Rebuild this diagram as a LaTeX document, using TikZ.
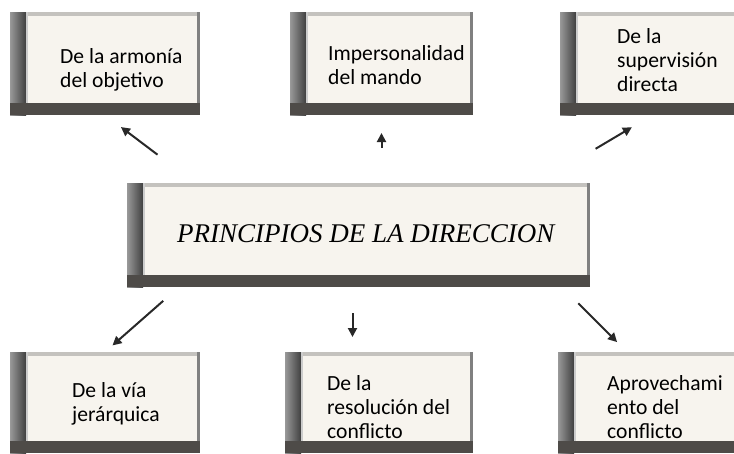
\documentclass[tikz,border=0pt]{standalone}
\usepackage{fontspec}
\newfontfamily\boxfont{Carlito}
\newfontfamily\titlefont{Liberation Serif}
\usetikzlibrary{arrows.meta}
\definecolor{boxface}{RGB}{247,244,238}
\definecolor{bandgray}{RGB}{78,75,72}
\definecolor{edgegray}{RGB}{196,194,190}
\definecolor{arrowgray}{RGB}{40,40,40}
\tikzset{
  frame/.style={rectangle,anchor=north west,inner sep=0pt,outer sep=0pt,fill=boxface,
    path picture={
      \fill[edgegray] (path picture bounding box.north west) rectangle ([yshift=-4pt]path picture bounding box.north east);
      \fill[black!50] ([xshift=-3pt]path picture bounding box.north east) rectangle (path picture bounding box.south east);
      \shade[left color=black!40,right color=black!75] (path picture bounding box.north west) rectangle ([xshift=16pt]path picture bounding box.south west);
      \fill[black!20] ([xshift=16pt]path picture bounding box.north west) rectangle ([xshift=18pt]path picture bounding box.south west);
      \fill[bandgray] ([yshift=12pt]path picture bounding box.south west) rectangle (path picture bounding box.south east);
    }},
  boxtext/.style={anchor=base west,align=left,inner sep=0pt,font=\boxfont\fontsize{21.6}{24}\selectfont},
  arr/.style={draw=arrowgray,line width=2pt,-{Triangle[length=9pt,width=9pt]}}
}
\begin{document}
\begin{tikzpicture}[x=1pt,y=-1pt]
  \useasboundingbox (0,0) rectangle (734,453);
  \node[frame,minimum width=463pt,minimum height=104pt] (pd) at (127,183) {};
  \node[frame,minimum width=190pt,minimum height=103pt] (tl) at (10,12) {};
  \node[frame,minimum width=183pt,minimum height=103pt] (tm) at (290,12) {};
  \node[frame,minimum width=185pt,minimum height=103pt] (tr) at (560,12) {};
  \node[frame,minimum width=190pt,minimum height=101pt] (bl) at (10,352) {};
  \node[frame,minimum width=188pt,minimum height=101pt] (bm) at (285,352) {};
  \node[frame,minimum width=187pt,minimum height=101pt] (br) at (558,352) {};

  \node[anchor=base west,inner sep=0pt,font=\titlefont\itshape\fontsize{27}{30}\selectfont] (pd-t) at ([shift={(50,59)}]pd.north west) {PRINCIPIOS DE LA DIRECCION};
  \node[boxtext] (tl-t) at ([shift={(50,75)}]tl.north west) {De la armonía\\del objetivo};
  \node[boxtext] (tm-t) at ([shift={(38,72)}]tm.north west) {Impersonalidad\\del mando};
  \node[boxtext] (tr-t) at ([shift={(57,79)}]tr.north west) {De la\\supervisión\\directa};
  \node[boxtext] (bl-t) at ([shift={(62,69)}]bl.north west) {De la vía\\jerárquica};
  \node[boxtext] (bm-t) at ([shift={(42,86)}]bm.north west) {De la\\resolución del\\conflicto};
  \node[boxtext] (br-t) at ([shift={(49,86)}]br.north west) {Aprovechami\\ento del\\conflicto};

  \draw[arr,shorten <=47pt,shorten >=20pt] ([xshift=68pt]pd.north west) -- (tl.south);
  \draw[arr,shorten <=35pt,shorten >=18pt] (tm.south |- pd.north) -- (tm.south);
  \draw[arr,shorten <=67pt,shorten >=24pt] ([xshift=-52pt]pd.north east) -- (tr.south);
  \draw[arr,shorten <=21pt,shorten >=10pt] ([xshift=52pt]pd.south west) -- (bl.north);
  \draw[arr,shorten <=26pt,shorten >=15pt] ([xshift=-6pt]pd.south) -- ([xshift=-6pt]pd.south |- bm.north);
  \draw[arr,shorten <=23pt,shorten >=14pt] ([xshift=-28pt]pd.south east) -- ([xshift=69pt]br.north west);
\end{tikzpicture}
\end{document}
